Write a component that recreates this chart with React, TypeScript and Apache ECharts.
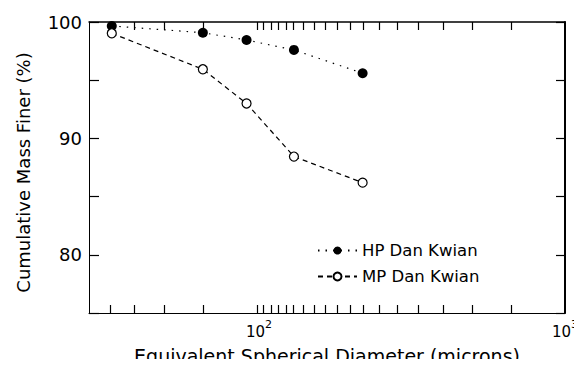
import React, { useEffect, useRef } from "react";
import * as echarts from "echarts";

const sizes = [33, 65.5, 91, 130, 218];
const hpValues = [99.66, 99.08, 98.45, 97.6, 95.6];
const mpValues = [99.03, 95.94, 93.0, 88.44, 86.2];
const xTickValues = [32.6, 39, 48.9, 65.6, 98.5, 103, 109.4, 115.4, 122.5, 129.1, 139.2, 151.2, 164.4, 179.8, 198.3, 218.6, 246.7, 282.5, 331, 399, 497, 666];
const xLabelValues = [100, 1000];
const yLabelValues = [80, 90, 100];
const yTickValues = [75, 80, 85, 90, 95, 100];
const seriesNames = ["HP Dan Kwian", "MP Dan Kwian"];
const xMin = 27.8;
const xMax = 1000;

const FONT = "DejaVu Sans";
const lg = (v: number) => Math.log10(v);

export default function App() {
  const ref = useRef<HTMLDivElement>(null);
  useEffect(() => {
    if (!ref.current) return;
    const chart = echarts.init(ref.current, undefined, { renderer: "svg" });
    const xCommon = {
      type: "value" as const,
      min: lg(xMin),
      max: lg(xMax),
      splitLine: { show: false },
      minorTick: { show: false },
      minorSplitLine: { show: false },
    };
    const yCommon = {
      type: "value" as const,
      min: 75,
      max: 100,
      interval: 5,
      splitLine: { show: false },
    };
    const tickLine = { color: "#000", width: 1.2 };
    chart.setOption({
      animation: false,
      backgroundColor: "#fff",
      grid: { left: 89, right: 17, top: 22, bottom: 54, containLabel: false, outerBoundsMode: "none" },
      legend: {
        orient: "vertical",
        left: 312,
        top: 237,
        itemWidth: 39,
        itemHeight: 10,
        itemGap: 9,
        data: seriesNames,
        textStyle: { fontFamily: FONT, fontSize: 16.5, color: "#000" },
      },
      xAxis: [
        {
          ...xCommon,
          position: "bottom",
          axisLine: { lineStyle: { color: "#000", width: 1 } },
          axisTick: { show: true, inside: true, length: 8, customValues: xTickValues.map(lg), lineStyle: tickLine },
          axisLabel: {
            customValues: xLabelValues.map(lg),
            margin: 6,
            color: "#000",
            formatter: (v: number) => `{b|10}{s|${Math.round(v)}}`,
            rich: {
              b: { fontFamily: FONT, fontSize: 15, color: "#000", lineHeight: 20, verticalAlign: "bottom" },
              s: { fontFamily: FONT, fontSize: 11, color: "#000", lineHeight: 20, verticalAlign: "top" },
            },
          },
          name: "Equivalent Spherical Diameter (microns)",
          nameLocation: "middle",
          nameGap: 33,
          nameTextStyle: { fontFamily: FONT, fontSize: 19, color: "#000" },
        },
        {
          ...xCommon,
          position: "top",
          axisLine: { lineStyle: { color: "#000", width: 1.5 } },
          axisTick: { show: true, inside: true, length: 8, customValues: xTickValues.map(lg), lineStyle: tickLine },
          axisLabel: { show: false },
        },
      ],
      yAxis: [
        {
          ...yCommon,
          position: "left",
          axisLine: { show: true, lineStyle: { color: "#000", width: 1 } },
          axisTick: { show: true, inside: true, length: 10, customValues: yTickValues, lineStyle: tickLine },
          axisLabel: {
            customValues: yLabelValues,
            color: "#000",
            fontFamily: FONT,
            fontSize: 18,
            margin: 7,
          },
          name: "Cumulative Mass Finer (%)",
          nameLocation: "middle",
          nameGap: 57,
          nameTextStyle: { fontFamily: FONT, fontSize: 18, color: "#000", padding: [0, 10, 0, 0] },
        },
        {
          ...yCommon,
          position: "right",
          axisLine: { show: true, lineStyle: { color: "#000", width: 2 } },
          axisTick: { show: true, inside: true, length: 9, customValues: yTickValues, lineStyle: tickLine },
          axisLabel: { show: false },
        },
      ],
      series: [
        {
          name: seriesNames[0],
          type: "line",
          data: sizes.map((s, i) => [lg(s), hpValues[i]]),
          symbol: "circle",
          symbolSize: 10,
          itemStyle: { color: "#000" },
          lineStyle: { color: "#000", width: 1.2, type: [1.5, 6] },
        },
        {
          name: seriesNames[1],
          type: "line",
          data: sizes.map((s, i) => [lg(s), mpValues[i]]),
          symbol: "circle",
          symbolSize: 9,
          itemStyle: { color: "#fff", borderColor: "#000", borderWidth: 1.2 },
          lineStyle: { color: "#000", width: 1.2, type: [5, 4] },
        },
      ],
    });
    return () => chart.dispose();
  }, []);
  return <div ref={ref} style={{ width: 582, height: 367, margin: -8 }} />;
}
